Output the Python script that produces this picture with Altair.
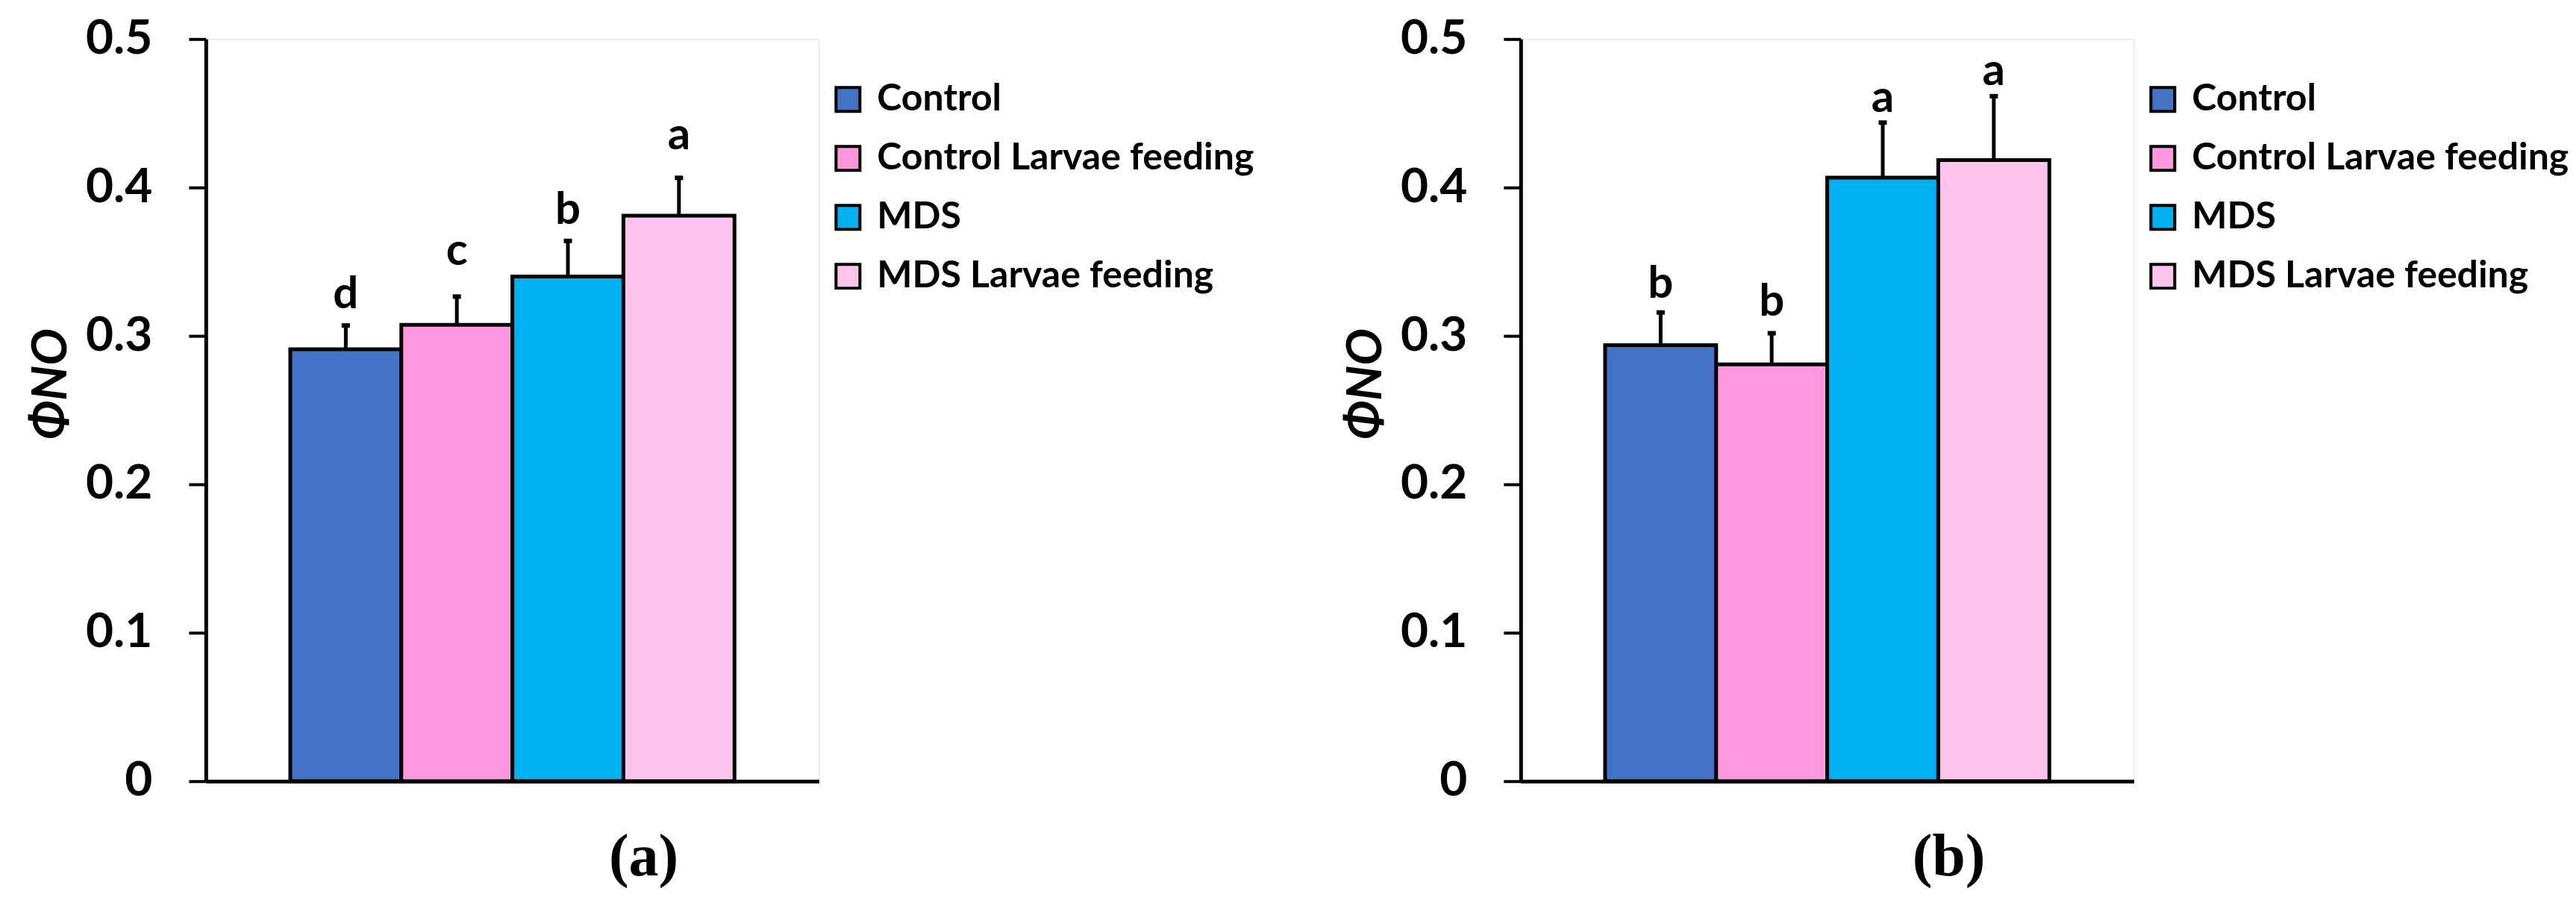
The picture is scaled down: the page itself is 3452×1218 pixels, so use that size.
import altair as alt
import pandas as pd

groups = ["Control", "Control Larvae feeding", "MDS", "MDS Larvae feeding"]
colors = ["#4472C4", "#FF96E0", "#00B0F0", "#FFC4EE"]

a_mean = [0.291, 0.3075, 0.340, 0.381]
a_se = [0.016, 0.019, 0.024, 0.0255]
a_letters = ["d", "c", "b", "a"]
a_label_y = [0.3187, 0.3476, 0.3756, 0.4259]

b_mean = [0.2938, 0.2808, 0.4067, 0.4185]
b_se = [0.022, 0.021, 0.037, 0.043]
b_letters = ["b", "b", "a", "a"]
b_label_y = [0.3257, 0.3137, 0.4509, 0.4688]

y_ticks = [0, 0.1, 0.2, 0.3, 0.4, 0.5]

FONT = "Lato"


def panel(means, ses, letters, label_y, caption, cap_dx):
    df = pd.DataFrame({
        "group": groups,
        "mean": means,
        "se": ses,
        "letter": letters,
        "label_y": label_y,
    })
    df["top"] = df["mean"] + df["se"]

    yscale = alt.Scale(domain=[0, 0.5], nice=False)
    yaxis = alt.Axis(
        title="ΦNO", values=y_ticks, format="~g", grid=False,
        domainColor="black", domainWidth=5, tickColor="black", tickWidth=4,
        tickSize=23, labelPadding=49, labelFont=FONT, labelFontSize=64,
        labelFontWeight="bold", labelColor="black", titleFont=FONT,
        titleFontSize=66, titleFontWeight="bold", titleFontStyle="italic",
        titleColor="black", titlePadding=12, titleY=462,
    )
    x = alt.X(
        "group:N", sort=groups,
        scale=alt.Scale(paddingInner=0, paddingOuter=0.76),
        axis=alt.Axis(labels=False, ticks=False, title=None, domainColor="black",
                      domainWidth=5, grid=False),
    )
    base = alt.Chart(df).encode(x=x)
    bars = base.mark_bar(stroke="black", strokeWidth=5).encode(
        y=alt.Y("mean:Q", scale=yscale, axis=yaxis),
        color=alt.Color(
            "group:N", sort=groups,
            scale=alt.Scale(domain=groups, range=colors),
            legend=alt.Legend(
                title=None, orient="none", legendX=836, legendY=56,
                symbolType="square", symbolSize=1024, symbolStrokeColor="black",
                symbolStrokeWidth=4, symbolOpacity=1, labelFont=FONT,
                labelFontSize=50, labelFontWeight="bold", labelColor="black",
                labelOffset=14, rowPadding=29, labelLimit=1000, padding=0,
            ),
        ),
    )
    rules = base.mark_rule(color="black", strokeWidth=5).encode(
        y=alt.Y("mean:Q", scale=yscale, axis=yaxis), y2="top:Q"
    )
    caps = base.mark_tick(color="black", thickness=6, size=11, opacity=1).encode(
        y=alt.Y("top:Q", scale=yscale, axis=yaxis)
    )
    text = base.mark_text(
        font=FONT, fontSize=60, fontWeight="bold", baseline="alphabetic",
        color="black",
    ).encode(y=alt.Y("label_y:Q", scale=yscale, axis=yaxis), text="letter:N")

    return alt.layer(bars, rules, caps, text).properties(
        width=822, height=995,
        title=alt.TitleParams(
            caption, orient="bottom", anchor="middle", frame="group", dx=cap_dx,
            offset=31, font="Liberation Serif", fontSize=80, fontWeight="bold",
            color="black",
        ),
    )


chart = alt.hconcat(
    panel(a_mean, a_se, a_letters, a_label_y, "(a)", 176),
    panel(b_mean, b_se, b_letters, b_label_y, "(b)", 163),
    spacing=115,
).resolve_scale(color="independent").resolve_legend(color="independent").properties(
    padding={"left": 27, "top": 11, "right": 0, "bottom": 0}
).configure_view(stroke="black", strokeWidth=4).configure(background="white")

chart.save("out.html", embed_options={"renderer": "svg", "actions": False})
